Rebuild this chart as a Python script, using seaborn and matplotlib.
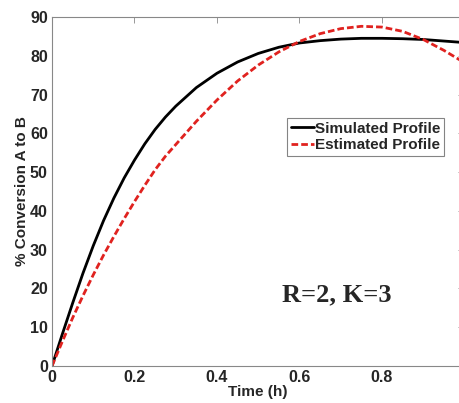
import matplotlib
matplotlib.use("Agg")
import matplotlib.pyplot as plt
import seaborn as sns
import pandas as pd

time_h = [0.0, 0.025, 0.05, 0.075, 0.1, 0.125, 0.15, 0.175, 0.2, 0.225, 0.25,
          0.275, 0.3, 0.35, 0.4, 0.45, 0.5, 0.55, 0.6, 0.65, 0.7, 0.75, 0.8,
          0.85, 0.9, 0.95, 1.0]
simulated = [0.0, 8.2, 16.2, 23.9, 31.0, 37.5, 43.3, 48.5, 53.1, 57.3, 61.0,
             64.2, 67.0, 71.8, 75.5, 78.4, 80.6, 82.2, 83.3, 83.9, 84.3, 84.5,
             84.5, 84.4, 84.2, 83.8, 83.4]
estimated = [0.0, 6.3, 12.4, 18.1, 23.5, 28.6, 33.4, 38.0, 42.4, 46.6, 50.6,
             54.1, 57.1, 63.1, 68.6, 73.5, 77.6, 81.0, 83.7, 85.7, 87.0, 87.6,
             87.4, 86.3, 84.2, 81.4, 78.2]
series_names = ["Simulated Profile", "Estimated Profile"]
x_ticks = [0, 0.2, 0.4, 0.6, 0.8]
x_tick_labels = ["0", "0.2", "0.4", "0.6", "0.8"]
y_ticks = [0, 10, 20, 30, 40, 50, 60, 70, 80, 90]

df = pd.DataFrame({
    "t": time_h * 2,
    "v": simulated + estimated,
    "s": [series_names[0]] * len(time_h) + [series_names[1]] * len(time_h),
})

sns.set_style("white")
plt.rcParams["font.family"] = ["Liberation Sans", "DejaVu Sans"]

fig = plt.figure(figsize=(4.6, 4.03), dpi=100)
ax = fig.add_axes([52 / 460, 37 / 403, 412.5 / 460, 349 / 403])

sns.lineplot(data=df, x="t", y="v", hue="s", style="s",
             palette={series_names[0]: "black", series_names[1]: "#e0221f"},
             dashes={series_names[0]: "", series_names[1]: (2.4, 1.1)},
             linewidth=2.0, ax=ax, legend=True)

ax.set_xlim(0, 1)
ax.set_ylim(0, 90)
ax.set_xticks(x_ticks)
ax.set_xticklabels(x_tick_labels)
ax.set_yticks(y_ticks)
ax.tick_params(direction="in", top=True, right=True, length=4, width=0.6,
               color="#888888", labelsize=11.5, pad=3)
for lab in ax.get_xticklabels() + ax.get_yticklabels():
    lab.set_fontweight("bold")
for sp in ax.spines.values():
    sp.set_color("#888888")
    sp.set_linewidth(0.8)

ax.set_xlabel("Time (h)", fontsize=11, fontweight="bold", labelpad=0)
ax.set_ylabel("% Conversion A to B", fontsize=11, fontweight="bold", labelpad=1)

leg = ax.legend(loc="upper left", bbox_to_anchor=(235 / 412.5, (366 - 118) / 349),
                fontsize=11, frameon=True, fancybox=False, handlelength=1.5,
                handletextpad=0.1, borderpad=0.25, labelspacing=0.15,
                borderaxespad=0)
leg.get_frame().set_edgecolor("#666666")
leg.get_frame().set_linewidth(0.8)
for txt in leg.get_texts():
    txt.set_fontweight("bold")
leg.set_title(None)

ax.text(0.69, 18.3, "R=2, K=3", fontsize=19, fontweight="bold",
        family=["Liberation Serif", "DejaVu Serif"], ha="center", va="center")

fig.savefig("out.png", dpi=100)
